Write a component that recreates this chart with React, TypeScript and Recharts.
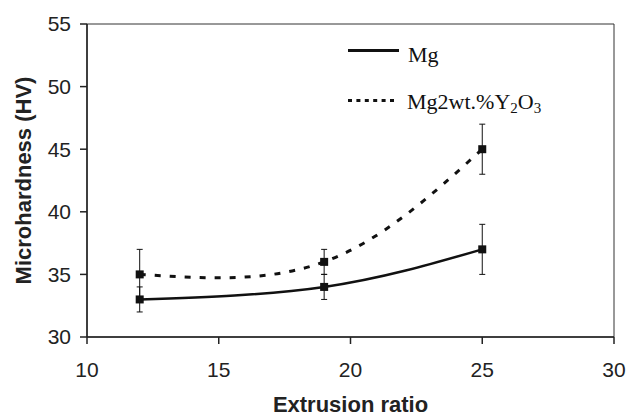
import React from "react";
import {
  ComposedChart,
  Line,
  XAxis,
  YAxis,
  ErrorBar,
  ReferenceArea,
} from "recharts";

// Data
const RATIOS = [12, 19, 25];
const MG = [33, 34, 37];
const MG_ERR = [1, 1, 2];
const MGY = [35, 36, 45];
const MGY_ERR = [2, 1, 2];
const X_TICKS = [10, 15, 20, 25, 30];
const Y_TICKS = [30, 35, 40, 45, 50, 55];

const data = RATIOS.map((r, i) => ({
  ratio: r,
  mg: MG[i],
  mgErr: MG_ERR[i],
  mgy: MGY[i],
  mgyErr: MGY_ERR[i],
}));

const SANS = "'Liberation Sans', Arial, sans-serif";
const SERIF = "'Liberation Serif', 'Times New Roman', serif";

// square marker
const SquareDot = (props: any) => {
  const { cx, cy } = props;
  if (cx == null || cy == null) return null;
  return <rect x={cx - 4} y={cy - 4} width={8} height={8} fill="#111" />;
};

// legend drawn over the plot area
const LegendBox = () => (
  <svg
    width={629}
    height={417}
    style={{ position: "absolute", left: 0, top: 0, pointerEvents: "none" }}
  >
    <line x1={348} y1={50.5} x2={399} y2={50.5} stroke="#111" strokeWidth={3} />
    <text x={408} y={61.5} fontFamily={SERIF} fontSize={22} fill="#111">
      Mg
    </text>
    <line x1={348} y1={100.5} x2={397} y2={100.5} stroke="#111" strokeWidth={3} strokeDasharray="4 4.4" />
    <text x={407} y={109} fontFamily={SERIF} fontSize={22} fill="#111">
      Mg2wt.%Y
      <tspan fontSize={15} dy={4}>2</tspan>
      <tspan dy={-4}>O</tspan>
      <tspan fontSize={15} dy={4}>3</tspan>
    </text>
  </svg>
);

export default function App() {
  return (
    <div style={{ position: "absolute", left: 0, top: 0, width: 629, height: 417, background: "#fff" }}>
      <ComposedChart
        width={629}
        height={417}
        data={data}
        margin={{ top: 24, right: 15, bottom: 0, left: 0 }}
      >
        <ReferenceArea
          x1={10}
          x2={30}
          y1={30}
          y2={55}
          fill="none"
          stroke="#333"
          strokeWidth={1}
          ifOverflow="visible"
        />
        <XAxis
          dataKey="ratio"
          type="number"
          domain={[10, 30]}
          ticks={X_TICKS}
          height={80}
          stroke="#222"
          strokeWidth={1.5}
          tickSize={7}
          tickMargin={18}
          tick={{ fill: "#222", fontSize: 21, fontFamily: SANS }}
          label={{
            value: "Extrusion ratio",
            position: "insideBottom",
            offset: 5,
            fill: "#222",
            fontSize: 22,
            fontWeight: 700,
            fontFamily: SANS,
          }}
        />
        <YAxis
          type="number"
          domain={[30, 55]}
          ticks={Y_TICKS}
          width={87}
          stroke="#222"
          strokeWidth={1.5}
          tickSize={7}
          tickMargin={9}
          tick={{ fill: "#222", fontSize: 21, fontFamily: SANS }}
          label={{
            value: "Microhardness (HV)",
            angle: -90,
            position: "center",
            dx: -20,
            fill: "#222",
            fontSize: 22,
            fontWeight: 700,
            fontFamily: SANS,
          }}
        />
        <Line
          dataKey="mg"
          name="Mg"
          type="natural"
          stroke="#111"
          strokeWidth={2.5}
          dot={<SquareDot />}
          activeDot={false}
          isAnimationActive={false}
        >
          <ErrorBar dataKey="mgErr" direction="y" width={3} stroke="#111" strokeWidth={1} />
        </Line>
        <Line
          dataKey="mgy"
          name="Mg2wt.%Y2O3"
          type="natural"
          stroke="#111"
          strokeWidth={3}
          strokeDasharray="6 9"
          dot={<SquareDot />}
          activeDot={false}
          isAnimationActive={false}
        >
          <ErrorBar dataKey="mgyErr" direction="y" width={3} stroke="#111" strokeWidth={1} />
        </Line>
      </ComposedChart>
      <LegendBox />
    </div>
  );
}
